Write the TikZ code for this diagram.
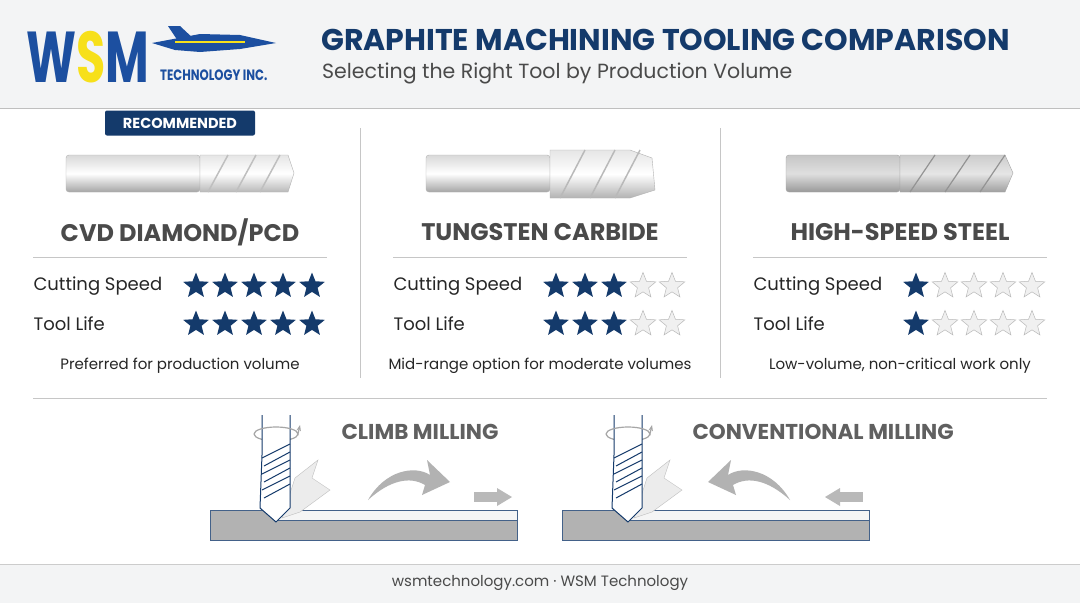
\documentclass[tikz,border=0pt]{standalone}
\usepackage{fontspec}
\setmainfont{Poppins}
\usetikzlibrary{shapes.geometric,positioning,arrows.meta}
\definecolor{navy}{HTML}{143A6B}
\definecolor{wsmblue}{HTML}{1C4FA0}
\definecolor{wsmyellow}{HTML}{F7E01A}
\definecolor{headbg}{HTML}{F3F4F5}
\definecolor{txtgray}{HTML}{4A4A4A}
\tikzset{
  starfull/.style={star,star points=5,star point ratio=2.3,fill=navy,minimum size=27pt,inner sep=0pt},
  starempty/.style={starfull,fill=gray!12,draw=gray!55,line width=0.5pt},
  toolname/.style={font=\bfseries\fontsize{24}{24}\selectfont,text=txtgray},
  rowlbl/.style={font=\fontsize{18}{18}\selectfont,text=black!85,anchor=west},
  note/.style={font=\fontsize{15}{15}\selectfont,text=black!85},
  milltitle/.style={font=\bfseries\fontsize{21.5}{22}\selectfont,text=gray!75!black},
  shank/.style={top color=gray!30,bottom color=gray!70,middle color=white,draw=gray!60},
}
% stars in a row: #1 x, #2 y, #3 number filled
\newcommand{\starrow}[3]{%
  \foreach \k in {1,...,5}{%
    \ifnum\k>#3 \node[starempty] at ({#1+(\k-1)*29},#2) {};%
    \else \node[starfull] at ({#1+(\k-1)*29},#2) {};\fi}}
% milling sketch: #1 x offset, #2 1=climb 0=conventional
\newcommand{\millsketch}[2]{%
  \begin{scope}[xshift=#1]
    \fill[gray!60,draw=navy!80,line width=1pt] (210,510) rectangle (517,540);
    \fill[gray!8,draw=navy!80,line width=1pt] (275,510) rectangle (517,520);
    \draw[gray!70,line width=1.2pt] (254,434) arc[start angle=180,end angle=0,x radius=22,y radius=7];
    \fill[gray!15,draw=gray!50] (282,518) -- (295,478) -- (318,460) -- (312,478) -- (330,490) -- (300,512) -- cycle;
    \fill[white,draw=navy,line width=1pt] (262,415) -- (262,455) -- (260,508) -- (276,522) -- (290,508) -- (290,455) -- (290,415);
    \foreach \s in {0,16,32}{
      \draw[navy,line width=1pt] (262,{458+\s}) -- (290,{444+\s});
      \draw[navy,line width=1pt] (264,{466+\s}) -- (290,{452+\s});}
    \draw[gray!70,line width=1.2pt,-{Stealth[length=6pt]}] (254,434) arc[start angle=180,end angle=360,x radius=22,y radius=7] -- (300,425);
    \ifnum#2=1
      \fill[gray!60] (368,500) .. controls (385,470) and (415,465) .. (430,475) -- (427,460) -- (450,482) -- (422,495) -- (425,485) .. controls (410,476) and (390,480) .. (368,500) -- cycle;
      \fill[gray!55] (474,492) rectangle (497,502);
      \fill[gray!55] (497,488) -- (512,497) -- (497,506) -- cycle;
    \else
      \fill[gray!60] (438,500) .. controls (421,470) and (391,465) .. (376,475) -- (379,460) -- (356,482) -- (384,495) -- (381,485) .. controls (396,476) and (416,480) .. (438,500) -- cycle;
      \fill[gray!55] (488,492) rectangle (511,502);
      \fill[gray!55] (488,488) -- (473,497) -- (488,506) -- cycle;
    \fi
  \end{scope}}
\begin{document}
\begin{tikzpicture}[x=1pt,y=-1pt]
  \useasboundingbox (0,0) rectangle (1080,603);
  \fill[white] (0,0) rectangle (1080,603);
  % header
  \fill[headbg] (0,0) rectangle (1080,108);
  \draw[gray!50] (0,108.5) -- (1080,108.5);
  \node[anchor=west,font=\bfseries\fontsize{72}{72}\selectfont,text=wsmblue,inner sep=0pt,xscale=0.66] (wsm) at (26,57)
    {W\textcolor{wsmyellow}{S}M};
  \node[anchor=west,font=\bfseries\fontsize{15}{15}\selectfont,text=wsmblue,inner sep=0pt,xscale=0.78] (tech) at (160,75) {TECHNOLOGY INC.};
  \fill[wsmblue] (152,43) -- (200,34) -- (240,35) -- (276,43) -- (240,49) -- (200,52) -- (175,50) -- cycle;
  \fill[wsmblue] (168,26) -- (180,26) -- (195,40) -- (180,44) -- cycle;
  \draw[wsmyellow,line width=1.2pt] (175,42) -- (245,42);
  \node[anchor=west,font=\bfseries\fontsize{30}{30}\selectfont,text=navy,inner sep=0pt] (title) at (321,40) {GRAPHITE MACHINING TOOLING COMPARISON};
  \node[anchor=west,font=\fontsize{20.5}{21}\selectfont,text=txtgray,inner sep=0pt] (subtitle) at (322,73) {Selecting the Right Tool by Production Volume};
  % recommended badge
  \node[fill=navy,rounded corners=2pt,text=white,font=\bfseries\fontsize{14.5}{15}\selectfont,minimum width=150pt,minimum height=25pt] (badge) at (180,123) {RECOMMENDED};
  % column separators
  \draw[gray!45] (360,128) -- (360,378);
  \draw[gray!45] (720,128) -- (720,378);
  % tools
  \shade[shank,rounded corners=3pt] (66,155) rectangle (200,192);
  \shade[top color=gray!20,bottom color=gray!55,middle color=white,draw=gray!60] (200,155) -- (288,155) -- (294,173) -- (288,192) -- (200,192) -- cycle;
  \foreach \s in {0,28,52}{\draw[gray!50,line width=1.5pt] ({208+\s},192) -- ({228+\s},155);}
  \shade[shank,rounded corners=3pt] (426,155) rectangle (550,192);
  \shade[top color=gray!20,bottom color=gray!60,middle color=white,draw=gray!60] (550,150) -- (630,150) -- (652,158) -- (655,190) -- (630,198) -- (550,198) -- cycle;
  \foreach \s in {0,30,55}{\draw[gray!55,line width=1.5pt] ({560+\s},198) -- ({585+\s},150);}
  \shade[top color=gray!45,bottom color=gray!80,middle color=gray!25,draw=gray!70,rounded corners=3pt] (786,155) rectangle (900,192);
  \shade[top color=gray!40,bottom color=gray!75,middle color=gray!20,draw=gray!70] (900,155) -- (1005,155) -- (1013,173) -- (1005,192) -- (900,192) -- cycle;
  \foreach \s in {0,35,70}{\draw[gray!85,line width=1.2pt] ({910+\s},192) -- ({935+\s},155);}
  % columns
  \foreach \cx/\name/\fs/\fl/\txt in {
      180/CVD DIAMOND\slash PCD/5/5/Preferred for production volume,
      540/TUNGSTEN CARBIDE/3/3/Mid-range option for moderate volumes,
      900/HIGH-SPEED STEEL/1/1/{Low-volume, non-critical work only}}{
    \node[toolname] at (\cx,232) {\name};
    \draw[gray!45] (\cx-147,257) -- (\cx+147,257);
    \node[rowlbl] at (\cx-150,286) {Cutting Speed};
    \node[rowlbl] at (\cx-150,324) {Tool Life};
    \starrow{\cx+16}{286}{\fs}
    \starrow{\cx+16}{324}{\fl}
    \node[note] at (\cx,366) {\txt};
  }
  \draw[gray!45] (33,398) -- (1047,398);
  % milling
  \millsketch{0}{1}
  \millsketch{352}{0}
  \node[milltitle,anchor=west] (climb) at (338,432) {CLIMB MILLING};
  \node[milltitle,anchor=west] (conv) at (689,432) {CONVENTIONAL MILLING};
  % footer
  \fill[headbg] (0,564) rectangle (1080,603);
  \draw[gray!40] (0,564) -- (1080,564);
  \node[font=\fontsize{15}{15}\selectfont,text=txtgray] (foot) at (540,583) {wsmtechnology.com · WSM Technology};
\end{tikzpicture}
\end{document}
